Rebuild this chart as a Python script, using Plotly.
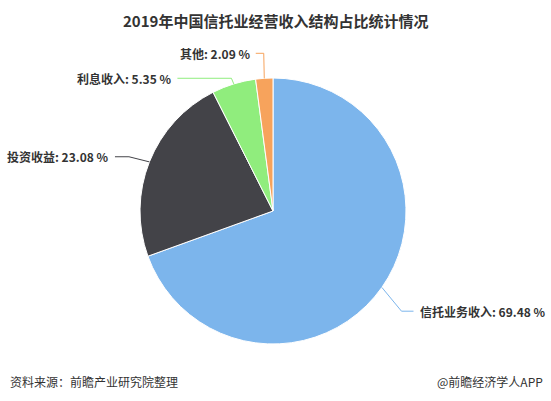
import math
import plotly.graph_objects as go

categories = ["信托业务收入", "投资收益", "利息收入", "其他"]
values = [69.48, 23.08, 5.35, 2.09]
colors = ["#7cb5ec", "#434348", "#90ed7d", "#f7a35c"]

W, H = 551, 401
cx, cy, r = 273, 211, 133

fig = go.Figure(go.Pie(
    labels=categories, values=values, sort=False, direction="clockwise", rotation=0,
    marker=dict(colors=colors, line=dict(color="white", width=1)),
    textinfo="none", hoverinfo="label+percent", showlegend=False,
    domain=dict(x=[(cx - r) / W, (cx + r) / W], y=[(H - cy - r) / H, (H - cy + r) / H]),
))

# label placement: (elbow distance beyond edge, extra vertical shift px, horizontal run px)
label_adj = {"信托业务收入": (24, 10, 12), "投资收益": (22, 3, 14),
             "利息收入": (8, 2, 54), "其他": (8, -17, 8)}

shapes, annotations = [], []
total = sum(values)
cum = 0
for name, v, c in zip(categories, values, colors):
    mid = (cum + v / 2) / total * 2 * math.pi
    cum += v
    sx, sy = math.sin(mid), -math.cos(mid)
    ex, ey = cx + r * sx, cy + r * sy
    d, dy, run = label_adj[name]
    bx, by = cx + (r + d) * sx, cy + (r + d) * sy + dy
    side = 1 if sx >= 0 else -1
    lx = bx + side * run
    path = f"M {ex/W} {1-ey/H} L {bx/W} {1-by/H} L {lx/W} {1-by/H}"
    shapes.append(dict(type="path", xref="paper", yref="paper", path=path,
                       line=dict(color=c, width=1)))
    annotations.append(dict(
        x=(lx + side * 4) / W, y=1 - by / H, xref="paper", yref="paper",
        text=f"<b>{name}: {v:.2f} %</b>", showarrow=False,
        xanchor="left" if side > 0 else "right", yanchor="middle",
        font=dict(size=12, color="#333333", family="Noto Sans CJK SC")))

annotations.append(dict(x=0.5, y=1 - 20 / H, xref="paper", yref="paper",
                        text="<b>2019年中国信托业经营收入结构占比统计情况</b>", showarrow=False,
                        xanchor="center", yanchor="middle",
                        font=dict(size=15, color="#333333", family="Noto Sans CJK SC")))
annotations.append(dict(x=8 / W, y=1 - 381 / H, xref="paper", yref="paper",
                        text="资料来源：前瞻产业研究院整理", showarrow=False,
                        xanchor="left", yanchor="middle",
                        font=dict(size=12, color="#333333", family="Noto Sans CJK SC")))
annotations.append(dict(x=545 / W, y=1 - 381 / H, xref="paper", yref="paper",
                        text="@前瞻经济学人APP", showarrow=False,
                        xanchor="right", yanchor="middle",
                        font=dict(size=12, color="#333333", family="Noto Sans CJK SC")))

fig.update_layout(width=W, height=H, margin=dict(l=0, r=0, t=0, b=0),
                  paper_bgcolor="white", plot_bgcolor="white",
                  shapes=shapes, annotations=annotations,
                  font=dict(family="Noto Sans CJK SC"))
fig.write_html("out.html", config={"displayModeBar": False},
               post_script="document.body.style.margin='0';document.body.style.overflow='hidden';")
